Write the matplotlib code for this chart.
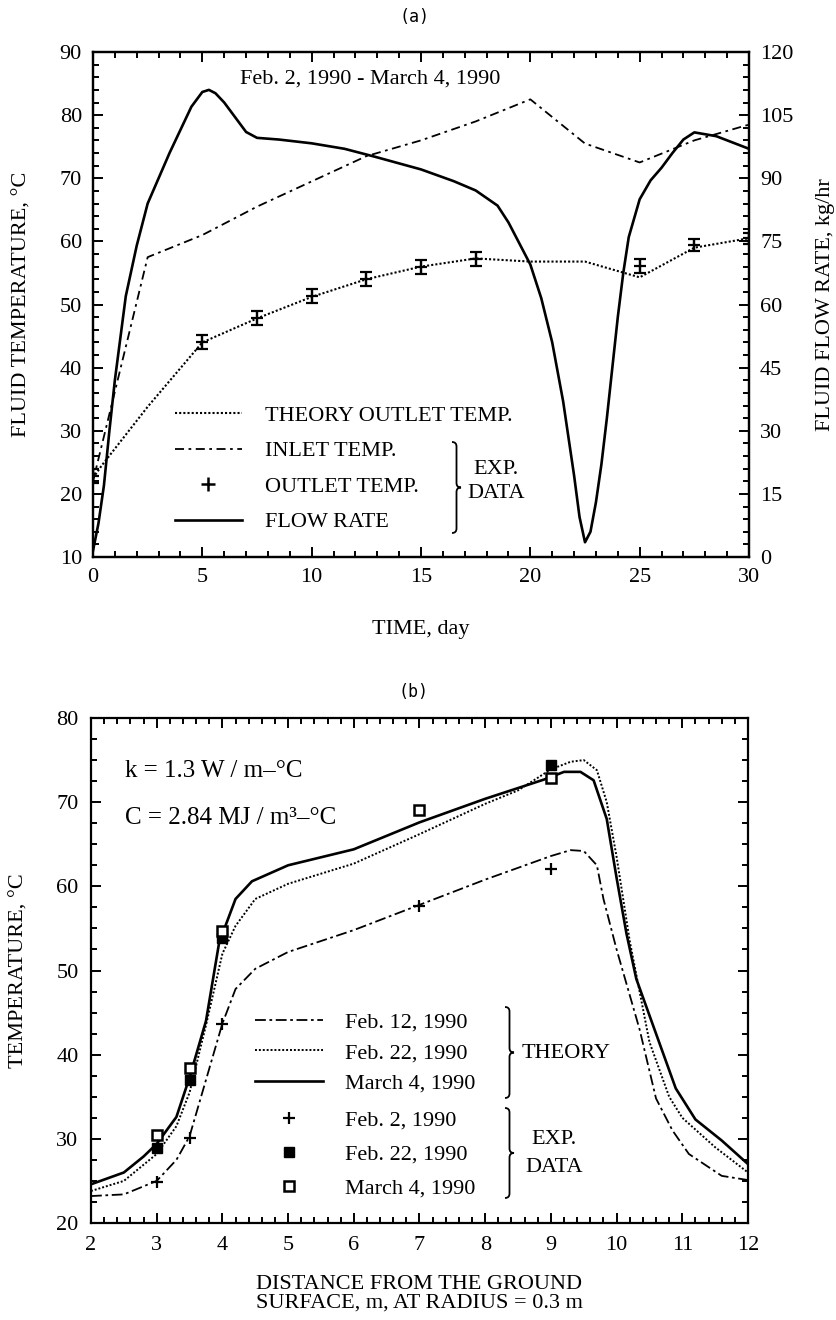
import matplotlib
matplotlib.use("Agg")
import matplotlib.pyplot as plt
from matplotlib.lines import Line2D
from matplotlib.path import Path
from matplotlib.patches import PathPatch

# ---- (a) fluid temperatures and flow rate vs time ----
theory_days = [0.0, 0.4, 2.5, 5.0, 7.5, 10.0, 12.5, 15.0, 17.5, 20.0, 22.5, 25.0, 27.5, 30.0]
theory_temp = [22.5, 24.5, 33.8, 44.0, 47.8, 51.2, 54.0, 56.0, 57.3, 56.8, 56.8, 54.3, 59.0, 60.5]

inlet_days = [0.0, 2.5, 5.0, 7.5, 10.0, 12.5, 15.0, 17.5, 20.0, 22.5, 25.0, 27.5, 30.0]
inlet_temp = [22.0, 57.5, 61.0, 65.5, 69.5, 73.5, 76.0, 79.0, 82.5, 75.5, 72.5, 76.0, 78.5]

outlet_days = [0.0, 5.0, 7.5, 10.0, 12.5, 15.0, 17.5, 25.0, 27.5, 30.0]
outlet_temp = [22.8, 44.0, 47.8, 51.3, 54.1, 55.9, 57.2, 56.1, 59.4, 60.5]
outlet_err = [1.1, 1.1, 1.1, 1.1, 1.1, 1.1, 1.1, 1.1, 0.9, 0.9]

flow_days = [0.0, 0.25, 0.5, 0.75, 1.0, 1.5, 2.0, 2.5, 3.0, 3.5, 4.0, 4.5, 5.0, 5.3, 5.6,
             6.0, 6.5, 7.0, 7.5, 8.5, 10.0, 11.5, 12.9, 15.0, 16.5, 17.5, 18.5, 19.0,
             20.0, 20.5, 21.0, 21.5, 22.0, 22.25, 22.5, 22.75, 23.0, 23.25, 23.5, 23.75,
             24.0, 24.25, 24.5, 25.0, 25.5, 26.0, 26.5, 27.0, 27.5, 28.5, 30.0]
flow_rate = [1.5, 8.0, 17.0, 30.0, 42.0, 62.0, 74.0, 84.0, 90.0, 96.0, 101.5, 107.0, 110.5,
             111.0, 110.2, 108.0, 104.5, 101.0, 99.6, 99.2, 98.3, 97.0, 95.1, 92.1, 89.3,
             87.1, 83.5, 79.5, 69.5, 61.5, 51.0, 37.0, 19.4, 9.5, 3.5, 6.0, 13.0, 22.0,
             33.0, 45.0, 57.0, 67.5, 76.0, 85.0, 89.5, 92.5, 96.0, 99.2, 100.9, 100.0, 97.0]

# ---- (b) temperature profiles vs depth ----
feb12_x = [2.0, 2.5, 3.0, 3.3, 3.5, 3.75, 4.0, 4.2, 4.5, 5.0, 6.0, 7.0, 8.0, 9.0, 9.3,
           9.5, 9.7, 9.8, 10.0, 10.35, 10.6, 10.85, 11.1, 11.6, 12.0]
feb12_t = [23.2, 23.4, 25.0, 27.5, 30.3, 37.0, 43.7, 47.8, 50.2, 52.2, 54.8, 57.8, 60.8,
           63.6, 64.3, 64.2, 62.5, 58.5, 52.5, 43.0, 34.8, 31.0, 28.2, 25.6, 25.1]

feb22_x = [2.0, 2.5, 3.0, 3.3, 3.5, 3.75, 4.0, 4.2, 4.5, 5.0, 6.0, 7.0, 8.0, 8.5, 9.0,
           9.3, 9.5, 9.7, 9.85, 10.0, 10.2, 10.5, 10.8, 11.0, 11.5, 12.0]
feb22_t = [23.8, 25.0, 28.2, 31.5, 35.5, 43.5, 52.0, 55.3, 58.5, 60.3, 62.7, 66.2, 69.8,
           71.4, 73.9, 74.8, 75.0, 73.8, 70.0, 63.5, 53.5, 41.5, 35.0, 32.5, 29.0, 26.0]

mar4_x = [2.0, 2.5, 2.8, 3.0, 3.3, 3.5, 3.75, 3.95, 4.2, 4.45, 5.0, 6.0, 7.0, 8.0, 8.9,
          9.2, 9.45, 9.65, 9.85, 10.0, 10.15, 10.3, 10.6, 10.9, 11.2, 11.6, 12.0]
mar4_t = [24.6, 26.0, 27.9, 29.4, 32.6, 37.3, 44.0, 53.3, 58.5, 60.6, 62.5, 64.4, 67.6,
          70.4, 72.7, 73.6, 73.6, 72.6, 68.0, 61.0, 54.4, 49.0, 42.5, 36.0, 32.3, 29.8, 27.0]

exp_feb2_x = [3.0, 3.5, 4.0, 7.0, 9.0]
exp_feb2_t = [24.9, 30.1, 43.7, 57.7, 62.1]
exp_feb22_x = [3.0, 3.5, 4.0, 9.0]
exp_feb22_t = [28.9, 37.0, 53.9, 74.4]
exp_mar4_x = [3.0, 3.5, 4.0, 7.0, 9.0]
exp_mar4_t = [30.5, 38.4, 54.7, 69.1, 72.9]

W_PX, H_PX = 837, 1320
FS = 16

plt.rcParams["font.family"] = ["Liberation Serif", "DejaVu Serif"]
plt.rcParams["font.size"] = FS
plt.rcParams["axes.linewidth"] = 1.6


def style_ticks(ax, **kw):
    ax.tick_params(which="both", direction="in", width=1.4, **kw)
    ax.tick_params(which="major", length=7)
    ax.tick_params(which="minor", length=4)


def brace(fig, x, y_top, y_bot, w=9, lw=1.3):
    # right-facing curly brace, coordinates in pixels from the top-left corner
    h = w / 2
    mid = (y_top + y_bot) / 2
    pts = [(x, y_top), (x + h, y_top), (x + h, y_top + h),
           (x + h, mid - h),
           (x + h, mid), (x + w, mid),
           (x + h, mid), (x + h, mid + h),
           (x + h, y_bot - h),
           (x + h, y_bot), (x, y_bot)]
    codes = [Path.MOVETO, Path.CURVE3, Path.CURVE3, Path.LINETO, Path.CURVE3, Path.CURVE3,
             Path.CURVE3, Path.CURVE3, Path.LINETO, Path.CURVE3, Path.CURVE3]
    verts = [(px / W_PX, 1 - py / H_PX) for px, py in pts]
    fig.add_artist(PathPatch(Path(verts, codes), transform=fig.transFigure,
                             fill=False, lw=lw, color="k"))


def px_text(fig, x, y, s, **kw):
    fig.text(x / W_PX, 1 - y / H_PX, s, **kw)


fig = plt.figure(figsize=(W_PX / 100, H_PX / 100), dpi=100)

# ---------------- panel (a) ----------------
ax = fig.add_axes([93 / W_PX, 1 - 557 / H_PX, 656 / W_PX, 505 / H_PX])
ax.plot(theory_days, theory_temp, color="k", lw=1.5, ls=(0, (1, 1)))
ax.plot(inlet_days, inlet_temp, color="k", lw=1.3, ls=(0, (5, 2.5, 1.5, 2.5)))
ax.errorbar(outlet_days, outlet_temp, yerr=outlet_err, fmt="+", color="k", ms=9,
            mew=1.6, capsize=4, elinewidth=1.6, capthick=1.6)
ax.set_xlim(0, 30)
ax.set_ylim(10, 90)
ax.set_xticks(range(0, 31, 5))
ax.set_xticks(range(0, 31, 1), minor=True)
ax.set_yticks(range(10, 91, 10))
ax.set_yticks(range(10, 91, 2), minor=True)
style_ticks(ax, top=True, right=False, pad=8)
ax.set_xlabel("TIME, day", labelpad=24)
ax.set_ylabel("FLUID TEMPERATURE, °C", labelpad=20)
ax.text(0.422, 0.946, "Feb. 2, 1990 - March 4, 1990", transform=ax.transAxes,
        ha="center", va="center", fontsize=FS)

ax2 = ax.twinx()
ax2.plot(flow_days, flow_rate, color="k", lw=1.9)
ax2.set_ylim(0, 120)
ax2.set_yticks(range(0, 121, 15))
ax2.set_yticks(range(0, 121, 3), minor=True)
style_ticks(ax2, pad=8)
ax2.set_ylabel("FLUID FLOW RATE, kg/hr", labelpad=16)

handles_a = [
    Line2D([], [], color="k", lw=1.5, ls=(0, (1, 1))),
    Line2D([], [], color="k", lw=1.3, ls=(0, (5, 2.5, 1.5, 2.5))),
    Line2D([], [], color="k", ls="none", marker="+", ms=10, mew=1.8),
    Line2D([], [], color="k", lw=1.9),
]
labels_a = ["THEORY OUTLET TEMP.", "INLET TEMP.", "OUTLET TEMP.", "FLOW RATE"]
ax2.legend(handles_a, labels_a, loc="upper left", bbox_to_anchor=(0.125, 0.30),
           frameon=False, borderpad=0, borderaxespad=0, handlelength=3.0,
           handletextpad=1.03, labelspacing=0.67, fontsize=FS)
brace(fig, 452, 442, 533)
px_text(fig, 496, 470, "EXP.", ha="center", va="center", fontsize=FS)
px_text(fig, 496, 494, "DATA", ha="center", va="center", fontsize=FS)

# ---------------- panel (b) ----------------
bx = fig.add_axes([91 / W_PX, 1 - 1223 / H_PX, 657 / W_PX, 505 / H_PX])
l12, = bx.plot(feb12_x, feb12_t, color="k", lw=1.3, ls=(0, (6, 2, 1.5, 2)))
l22, = bx.plot(feb22_x, feb22_t, color="k", lw=1.4, ls=(0, (1, 1)))
lm4, = bx.plot(mar4_x, mar4_t, color="k", lw=1.9)
m2, = bx.plot(exp_feb2_x, exp_feb2_t, ls="none", marker="+", color="k", ms=9, mew=1.6)
m22, = bx.plot(exp_feb22_x, exp_feb22_t, ls="none", marker="s", color="k", ms=7)
m4, = bx.plot(exp_mar4_x, exp_mar4_t, ls="none", marker="s", mfc="white", mec="k",
              ms=6.5, mew=1.8)
bx.set_xlim(2, 12)
bx.set_ylim(20, 80)
bx.set_xticks(range(2, 13))
bx.set_xticks([2 + 0.2 * i for i in range(51)], minor=True)
bx.set_yticks(range(20, 81, 10))
bx.set_yticks([20 + 2.5 * i for i in range(25)], minor=True)
style_ticks(bx, top=True, right=True, pad=9)
bx.set_xlabel("DISTANCE FROM THE GROUND\nSURFACE, m, AT RADIUS = 0.3 m",
              labelpad=15, linespacing=0.95)
bx.set_ylabel("TEMPERATURE, °C", labelpad=20)
bx.text(0.052, 0.896, "k = 1.3 W / m–°C", transform=bx.transAxes,
        ha="left", va="center", fontsize=18)
bx.text(0.052, 0.801, "C = 2.84 MJ / m³–°C", transform=bx.transAxes,
        ha="left", va="center", fontsize=18)

leg_theory = bx.legend([l12, l22, lm4], ["Feb. 12, 1990", "Feb. 22, 1990", "March 4, 1990"],
                       loc="upper left", bbox_to_anchor=(0.25, 0.418), frameon=False,
                       borderpad=0, borderaxespad=0, handlelength=3.05,
                       handletextpad=0.98, labelspacing=0.46, fontsize=FS)
bx.add_artist(leg_theory)
bx.legend([m2, m22, m4], ["Feb. 2, 1990", "Feb. 22, 1990", "March 4, 1990"],
          loc="upper left", bbox_to_anchor=(0.25, 0.224), frameon=False, numpoints=1,
          borderpad=0, borderaxespad=0, handlelength=3.05,
          handletextpad=0.98, labelspacing=0.61, fontsize=FS)
brace(fig, 505, 1007, 1098)
px_text(fig, 522, 1053, "THEORY", ha="left", va="center", fontsize=FS)
brace(fig, 505, 1108, 1198)
px_text(fig, 554, 1140, "EXP.", ha="center", va="center", fontsize=FS)
px_text(fig, 554, 1168, "DATA", ha="center", va="center", fontsize=FS)

# panel tags
px_text(fig, 415, 17, "(a)", ha="center", va="center", family="DejaVu Sans Mono", fontsize=12)
px_text(fig, 414, 692, "(b)", ha="center", va="center", family="DejaVu Sans Mono", fontsize=12)

fig.savefig("out.png", dpi=100, facecolor="white")
